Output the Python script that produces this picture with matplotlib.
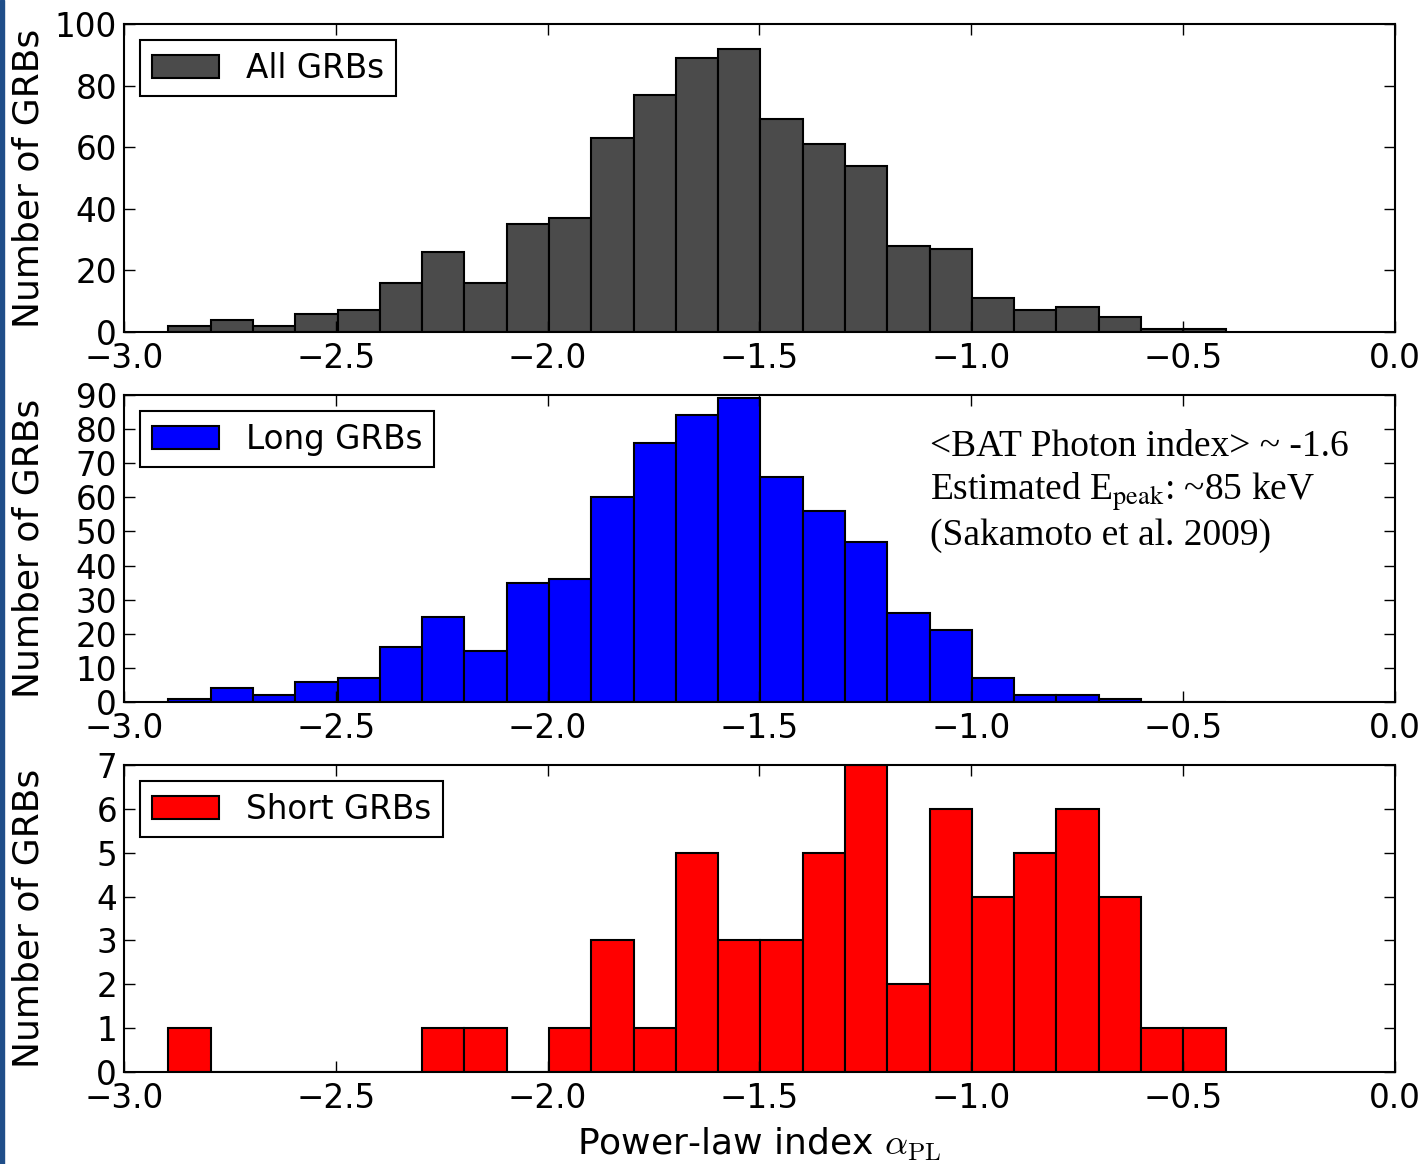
import numpy as np
import matplotlib
matplotlib.use("Agg")
import matplotlib.pyplot as plt
from matplotlib.patches import Rectangle

# bin edges of the power-law index histograms
bords = np.linspace(-2.895, -0.40, 26)

# counts
tous = [2, 4, 2, 6, 7, 16, 26, 16, 35, 37, 63, 77, 89, 92, 69, 61, 54, 28, 27, 11, 7, 8, 5, 1, 1]
longs = [1, 4, 2, 6, 7, 16, 25, 15, 35, 36, 60, 76, 84, 89, 66, 56, 47, 26, 21, 7, 2, 2, 1, 0, 0]
courts = [1, 0, 0, 0, 0, 0, 1, 1, 0, 1, 3, 1, 5, 3, 3, 5, 7, 2, 6, 4, 5, 6, 4, 1, 1]

panneaux = [
    (tous, "#4b4b4b", "All GRBs", 100, np.arange(0, 101, 20)),
    (longs, "#0000ff", "Long GRBs", 90, np.arange(0, 91, 10)),
    (courts, "#ff0000", "Short GRBs", 7, np.arange(0, 8, 1)),
]

plt.rcParams["font.family"] = "DejaVu Sans"
fs = 23.5   # ticks and legend
fl = 26     # axis labels

fig = plt.figure(figsize=(14.26, 11.64), dpi=100)
# left blue strip of the slide
fig.patches.append(Rectangle((0, 0), 0.0025, 1, transform=fig.transFigure,
                             color="#1f4e89", zorder=10))

gauche, droite = 124 / 1426, 1395 / 1426
hauts = [(24, 332), (395, 702), (765, 1072)]

axes = []
for (valeurs, couleur, nom, ymax, yticks), (h, b) in zip(panneaux, hauts):
    ax = fig.add_axes([gauche, 1 - b / 1164, droite - gauche, (b - h) / 1164])
    ax.bar(bords[:-1], valeurs, width=np.diff(bords), align="edge",
           color=couleur, edgecolor="black", linewidth=1.5, label=nom)
    ax.set_xlim(-3.0, 0.0)
    ax.set_ylim(0, ymax)
    ax.set_yticks(yticks)
    ax.set_xticks([-3.0, -2.5, -2.0, -1.5, -1.0, -0.5, 0.0])
    ax.tick_params(direction="in", top=True, right=True, length=8, width=1,
                   labelsize=fs)
    ax.tick_params(axis="x", pad=7)
    ax.tick_params(axis="y", pad=5)
    for s in ax.spines.values():
        s.set_linewidth(1.5)
    ax.set_ylabel("Number of GRBs", fontsize=fl)
    leg = ax.legend(loc="upper left", fontsize=fs, frameon=True, fancybox=False,
                    framealpha=1, edgecolor="black", handlelength=2.05,
                    handleheight=0.7, borderaxespad=0.5, borderpad=0.35,
                    handletextpad=0.85)
    leg.get_frame().set_linewidth(1.5)
    axes.append(ax)

for ax in axes:
    ax.yaxis.set_label_coords(-0.062, 0.5)

# annotation in the middle panel
ax = axes[1]
ts = 27
ax.text(0.634, 0.831, "<BAT Photon index> ~ -1.6", transform=ax.transAxes,
        fontsize=ts, family="Liberation Serif", va="center", ha="left")
ax.text(0.634, 0.684, r"Estimated E$_{\mathrm{peak}}$: ~85 keV", transform=ax.transAxes,
        fontsize=ts, family="Liberation Serif", math_fontfamily="stix",
        va="center", ha="left")
ax.text(0.634, 0.541, "(Sakamoto et al. 2009)", transform=ax.transAxes,
        fontsize=ts, family="Liberation Serif", va="center", ha="left")

axes[2].set_xlabel(r"Power-law index $\alpha_{\rm PL}$", fontsize=fl,
                   math_fontfamily="cm", labelpad=8)

plt.savefig("out.png", dpi=100)
